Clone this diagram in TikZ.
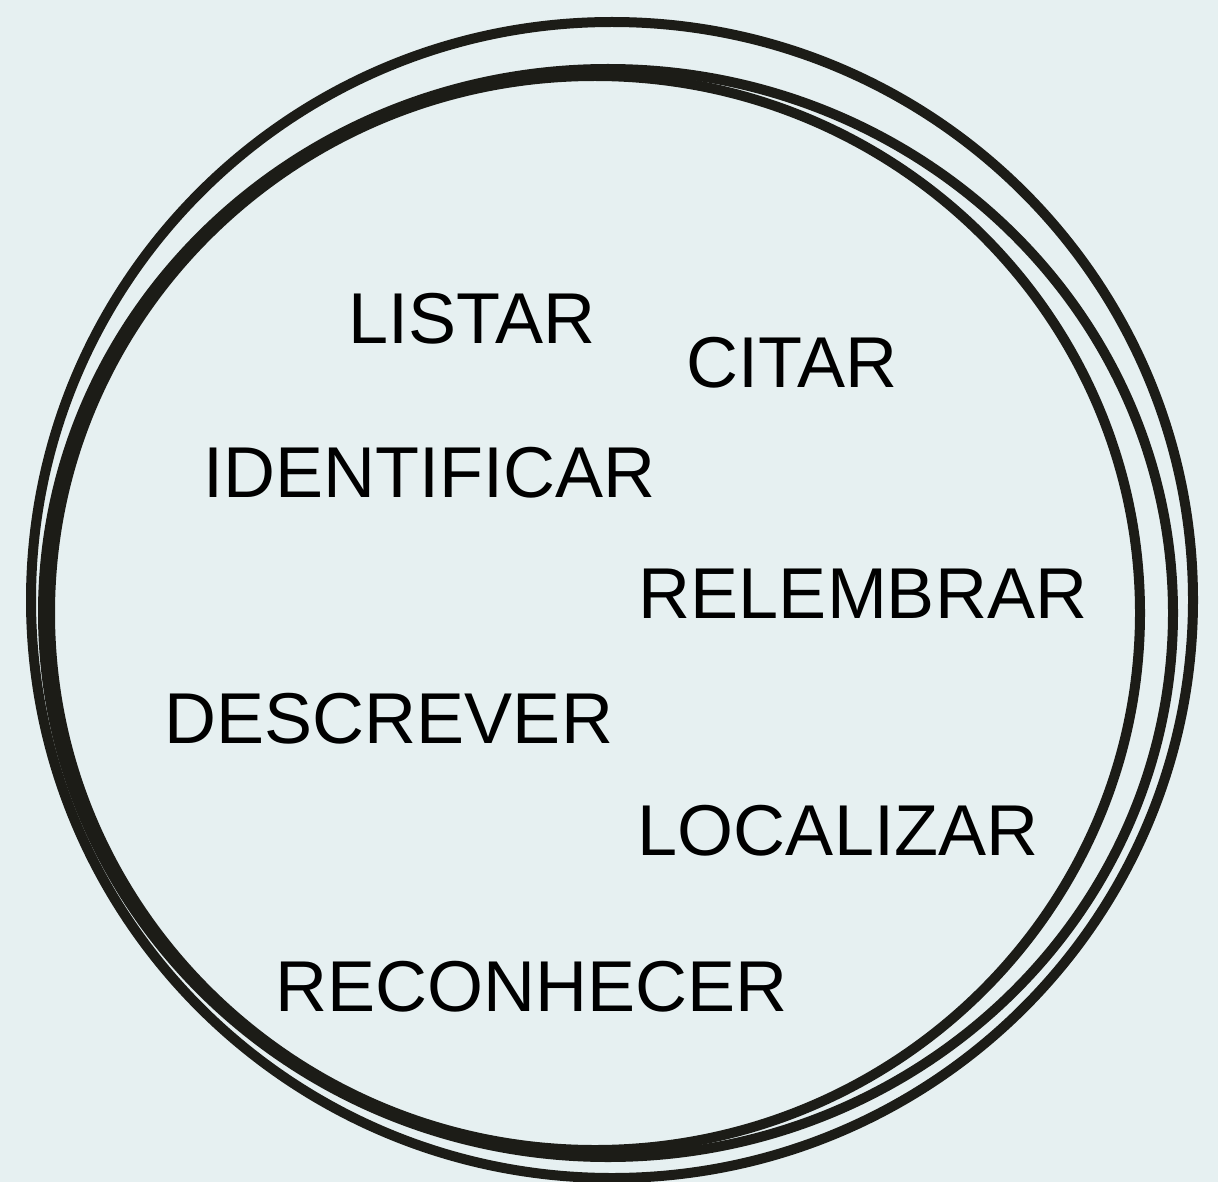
\documentclass[tikz,border=0pt]{standalone}
\usepackage{fontspec}
\setmainfont{Liberation Sans}
\definecolor{bg}{HTML}{E6F0F1}
\definecolor{ink}{HTML}{1C1C17}
\begin{document}
\begin{tikzpicture}[x=1pt,y=-1pt,
  loop/.style={draw=ink,line width=10pt},
  word/.style={anchor=base,inner sep=0pt,text=black,font=\fontsize{72}{80}\selectfont}]
\fill[bg] (0,0) rectangle (1218,1182);
\useasboundingbox (0,0) rectangle (1218,1182);
\draw[loop] (612,600) ellipse [x radius=581, y radius=578];
\draw[loop] (608,613) ellipse [x radius=565, y radius=544];
\draw[loop] (595,613) ellipse [x radius=545, y radius=537];
\node[word] (listar) at (472,343) {LISTAR};
\node[word] (citar) at (792,387) {CITAR};
\node[word] (identificar) at (429,497) {IDENTIFICAR};
\node[word] (relembrar) at (863,618) {RELEMBRAR};
\node[word] (descrever) at (389,743) {DESCREVER};
\node[word] (localizar) at (838,855) {LOCALIZAR};
\node[word] (reconhecer) at (532,1011) {RECONHECER};
\end{tikzpicture}
\end{document}
